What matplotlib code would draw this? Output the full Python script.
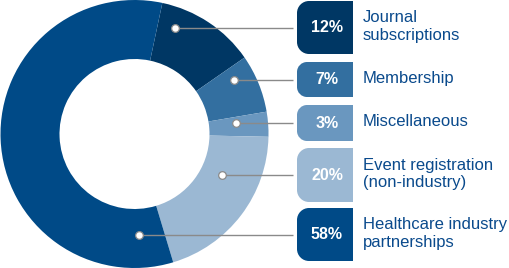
import numpy as np
import matplotlib
matplotlib.use("Agg")
import matplotlib.pyplot as plt
from matplotlib.path import Path
from matplotlib.patches import PathPatch

plt.rcParams["font.family"] = ["Liberation Sans", "DejaVu Sans"]

# data
shares = [12, 7, 3, 20, 58]
pct_labels = ["12%", "7%", "3%", "20%", "58%"]
names = ["Journal\nsubscriptions", "Membership", "Miscellaneous",
         "Event registration\n(non-industry)", "Healthcare industry\npartnerships"]
colors = ["#003764", "#336fa0", "#6a97bf", "#9bb8d3", "#004a87"]

W, H = 510, 268
CX, CY, R_OUT, RING = 134.5, 134, 134, 59

# layout (pixel coords, y from top)
box_x0, box_x1 = 297, 353
box_spans = [(1, 54), (62, 97), (105, 141), (148, 202), (208, 261)]
dot_x = [175, 234, 236, 222, 139]
line_end = 293
label_x = 363
label_color = "#0a4a8c"


def py(y):
    return H - y


def left_rounded_box(x0, x1, ytop, ybot, r):
    # square right side, rounded left corners
    yt, yb = py(ytop), py(ybot)
    k = 0.5523 * r
    verts = [
        (x1, yt), (x0 + r, yt),
        (x0 + r - k, yt), (x0, yt - r + k), (x0, yt - r),
        (x0, yb + r),
        (x0, yb + r - k), (x0 + r - k, yb), (x0 + r, yb),
        (x1, yb), (x1, yt),
    ]
    codes = [Path.MOVETO, Path.LINETO,
             Path.CURVE4, Path.CURVE4, Path.CURVE4,
             Path.LINETO,
             Path.CURVE4, Path.CURVE4, Path.CURVE4,
             Path.LINETO, Path.CLOSEPOLY]
    return Path(verts, codes)


fig = plt.figure(figsize=(W / 100, H / 100), dpi=100)
ax = fig.add_axes([0, 0, 1, 1])

ax.pie(shares, colors=colors, startangle=78, counterclock=False,
       center=(CX, py(CY)), radius=R_OUT,
       wedgeprops=dict(width=RING, linewidth=0))

ax.set_xlim(0, W)
ax.set_ylim(0, H)
ax.set_aspect("auto")
ax.axis("off")

for i in range(len(shares)):
    ytop, ybot = box_spans[i]
    yc = (ytop + ybot) / 2
    ax.plot([dot_x[i], line_end], [py(yc), py(yc)], color="#8a8a8a", lw=1.0,
            solid_capstyle="butt", zorder=3)
    ax.plot(dot_x[i], py(yc), marker="o", ms=5.5, mfc="white", mec="#8a8a8a",
            mew=0.9, zorder=4)
    r = 12 if ybot - ytop > 45 else 10
    ax.add_patch(PathPatch(left_rounded_box(box_x0, box_x1, ytop, ybot, r),
                           facecolor=colors[i], edgecolor="none", zorder=3))
    ax.text(327, py(yc), pct_labels[i], color="white", fontsize=11.5,
            fontweight="bold", ha="center", va="center", zorder=5)
    ax.text(label_x, py(yc) + 1, names[i], color=label_color, fontsize=12,
            ha="left", va="center", linespacing=1.18, zorder=5)

fig.savefig("out.png", dpi=100)
